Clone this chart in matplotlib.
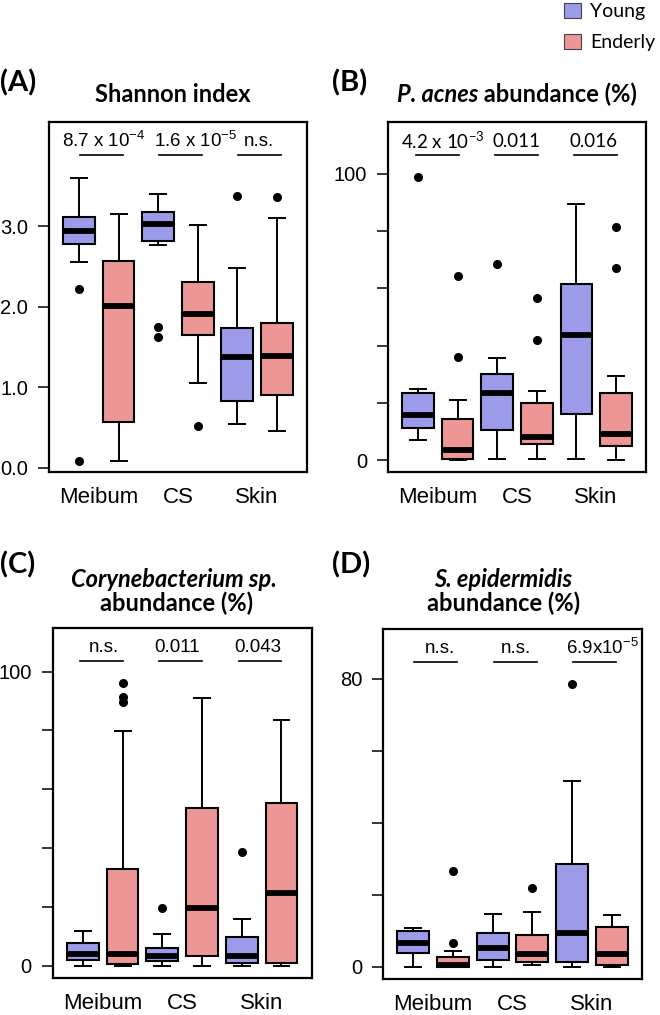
import numpy as np
import matplotlib
matplotlib.use("Agg")
import matplotlib.pyplot as plt
from matplotlib.patches import Patch

# groups: Young/Enderly for Meibum, CS, Skin
sites = ["Meibum", "CS", "Skin"]
groups = ["Young", "Enderly"]
col_young = "#9b9bea"
col_old = "#ec9696"

# (A) Shannon index  -- order: YM, EM, YCS, ECS, YS, ES
sh_lo = [2.55, 0.09, 2.77, 1.05, 0.54, 0.46]
sh_q1 = [2.78, 0.57, 2.81, 1.65, 0.83, 0.90]
sh_med = [2.94, 2.01, 3.02, 1.91, 1.37, 1.39]
sh_q3 = [3.11, 2.57, 3.17, 2.31, 1.73, 1.80]
sh_hi = [3.59, 3.15, 3.40, 3.01, 2.48, 3.10]
sh_out = [[2.22, 0.09], [], [1.75, 1.63], [0.52], [3.37], [3.36]]
sh_p = ["8.7 x 10$^{-4}$", "1.6 x 10$^{-5}$", "n.s."]

# (B) P. acnes
pa_lo = [7.2, 0.0, 0.6, 0.6, 0.3, 0.0]
pa_q1 = [11.2, 0.3, 10.6, 5.8, 16.0, 4.8]
pa_med = [15.7, 3.5, 23.4, 8.1, 43.7, 9.1]
pa_q3 = [23.3, 14.3, 30.0, 20.1, 61.4, 23.3]
pa_hi = [24.8, 20.9, 35.5, 24.0, 89.5, 29.4]
pa_out = [[98.8], [36.0, 64.2], [68.4], [41.9, 56.6], [], [66.9, 81.2]]
pa_p = ["4.2 x 10$^{-3}$", "0.011", "0.016"]

# (C) Corynebacterium sp.
co_lo = [0.0, 0.0, 0.0, 0.0, 0.0, 0.0]
co_q1 = [2.0, 0.7, 1.7, 3.2, 1.1, 1.1]
co_med = [4.1, 4.1, 3.2, 19.6, 3.2, 24.9]
co_q3 = [7.7, 33.0, 6.0, 53.6, 9.7, 55.3]
co_hi = [12.0, 79.8, 10.9, 90.9, 15.9, 83.6]
co_out = [[], [96.0, 91.5, 89.5], [19.5], [], [38.7], []]
co_p = ["n.s.", "0.011", "0.043"]

# (D) S. epidermidis
se_lo = [0.0, 0.0, 0.0, 0.5, 0.0, 0.0]
se_q1 = [3.9, 0.0, 1.9, 1.3, 1.3, 0.4]
se_med = [6.5, 0.5, 5.1, 3.5, 9.5, 3.5]
se_q3 = [9.9, 2.6, 9.3, 8.8, 28.5, 11.1]
se_hi = [10.9, 4.4, 14.8, 15.3, 51.7, 14.4]
se_out = [[], [6.7, 26.6], [], [22.0], [78.6], []]
se_p = ["n.s.", "n.s.", "6.9x10$^{-5}$"]

plt.rcParams['font.family'] = ['Liberation Sans', 'DejaVu Sans']
plt.rcParams['mathtext.default'] = 'regular'

fig = plt.figure(figsize=(6.6, 10.15), dpi=100)
axA = fig.add_axes([0.0742, 0.5350, 0.3909, 0.3448])
axB = fig.add_axes([0.5879, 0.5350, 0.3909, 0.3448])
axC = fig.add_axes([0.0798, 0.0365, 0.3924, 0.3448])
axD = fig.add_axes([0.5803, 0.0355, 0.3924, 0.3448])


def draw_panel(ax, lo, q1, med, q3, hi, out, pvals, ylim, yticks, ylabels,
               pfont, txt_dx, line_dx):
    stats = []
    for i in range(6):
        stats.append(dict(whislo=lo[i], q1=q1[i], med=med[i], q3=q3[i],
                          whishi=hi[i], fliers=out[i]))
    pos = np.arange(1, 7)
    bp = ax.bxp(stats, positions=pos, widths=0.8, capwidths=0.4,
                patch_artist=True, showfliers=True,
                boxprops=dict(edgecolor='black', linewidth=1.5),
                medianprops=dict(color='black', linewidth=4.2, solid_capstyle='butt'),
                whiskerprops=dict(color='black', linewidth=1.4),
                capprops=dict(color='black', linewidth=1.4),
                flierprops=dict(marker='o', markerfacecolor='black',
                                markeredgecolor='black', markersize=5.5))
    for i, b in enumerate(bp['boxes']):
        b.set_facecolor(col_young if i % 2 == 0 else col_old)
    ax.set_xlim(0.24, 6.76)
    ax.set_ylim(*ylim)
    ax.set_yticks(yticks)
    ax.set_yticklabels(ylabels, fontsize=14.5)
    ax.set_xticks([1.5, 3.5, 5.5])
    ax.set_xticklabels(sites, fontsize=16)
    ax.tick_params(axis='x', length=0, pad=11)
    ax.tick_params(axis='y', length=8, width=1.1, pad=7)
    for s in ax.spines.values():
        s.set_linewidth(1.6)
    tr = ax.get_xaxis_transform()
    for k, c in enumerate([1.5, 3.5, 5.5]):
        c_line = c + line_dx
        ax.plot([c_line - 0.54, c_line + 0.54], [0.907, 0.907], color='black',
                linewidth=1.2, transform=tr, clip_on=False)
        ax.text(c + txt_dx[k], 0.945, pvals[k], transform=tr, ha='center',
                va='center', fontsize=13.5, family=pfont)


draw_panel(axA, sh_lo, sh_q1, sh_med, sh_q3, sh_hi, sh_out, sh_p,
           (-0.05, 4.29), [0, 1, 2, 3], ["0.0", "1.0", "2.0", "3.0"],
           ['Liberation Sans', 'DejaVu Sans'], [0.12, 0.45, 0.04], 0.06)
draw_panel(axB, pa_lo, pa_q1, pa_med, pa_q3, pa_hi, pa_out, pa_p,
           (-4.1, 118), [0, 20, 40, 60, 80, 100], ["0", "", "", "", "", "100"],
           ['Lato', 'DejaVu Sans'], [0.12, -0.02, -0.06], -0.01)
draw_panel(axC, co_lo, co_q1, co_med, co_q3, co_hi, co_out, co_p,
           (-4.1, 114.8), [0, 20, 40, 60, 80, 100], ["0", "", "", "", "", "100"],
           ['Liberation Sans', 'DejaVu Sans'], [0.03, -0.12, -0.09], -0.04)
draw_panel(axD, se_lo, se_q1, se_med, se_q3, se_hi, se_out, se_p,
           (-3.4, 93.9), [0, 20, 40, 60, 80], ["0", "", "", "", "80"],
           ['Liberation Sans', 'DejaVu Sans'], [0.17, 0.09, 0.26], 0.07)

# titles
tfs = 17
axA.text(0.48, 1.058, "Shannon index", transform=axA.transAxes, ha='center',
         va='baseline', fontsize=tfs, fontweight='bold', family='Lato')
tB1 = axB.text(0.0, 1.058, "P. acnes", transform=axB.transAxes, ha='left',
               va='baseline', fontsize=tfs, fontweight='bold', style='italic', family='Lato')
tB2 = axB.text(0.0, 1.058, " abundance (%)", transform=axB.transAxes, ha='left',
               va='baseline', fontsize=tfs, fontweight='bold', family='Lato')
axC.text(0.47, 1.118, "Corynebacterium sp.", transform=axC.transAxes, ha='center',
         va='baseline', fontsize=tfs, fontweight='bold', style='italic', family='Lato')
axC.text(0.48, 1.049, "abundance (%)", transform=axC.transAxes, ha='center',
         va='baseline', fontsize=tfs, fontweight='bold', family='Lato')
axD.text(0.465, 1.12, "S. epidermidis", transform=axD.transAxes, ha='center',
         va='baseline', fontsize=tfs, fontweight='bold', style='italic', family='Lato')
axD.text(0.467, 1.051, "abundance (%)", transform=axD.transAxes, ha='center',
         va='baseline', fontsize=tfs, fontweight='bold', family='Lato')

# centre the two-part title of (B)
fig.canvas.draw()
r = fig.canvas.get_renderer()
w1 = tB1.get_window_extent(r).width
w2 = tB2.get_window_extent(r).width
axw = axB.get_window_extent(r).width
centre = 0.50
x1 = centre - (w1 + w2) / 2 / axw
tB1.set_x(x1)
tB2.set_x(x1 + w1 / axw)

# panel letters
fig.text(0.0, 0.9097, "(A)", fontsize=21, fontweight='bold', family='Lato', va='baseline')
fig.text(0.503, 0.9097, "(B)", fontsize=21, fontweight='bold', family='Lato', va='baseline')
fig.text(0.0, 0.4355, "(C)", fontsize=21, fontweight='bold', family='Lato', va='baseline')
fig.text(0.503, 0.4355, "(D)", fontsize=21, fontweight='bold', family='Lato', va='baseline')

handles = [Patch(facecolor=col_young, edgecolor='#444444', linewidth=0.8),
           Patch(facecolor=col_old, edgecolor='#444444', linewidth=0.8)]
fig.legend(handles, groups, loc='upper left', bbox_to_anchor=(562 / 660, 0.999),
           frameon=False, borderpad=0.1, borderaxespad=0, handlelength=0.9,
           handleheight=0.8, handletextpad=0.45, labelspacing=0.7,
           prop={'family': 'Lato', 'size': 14})

fig.savefig("out.png", dpi=100)
